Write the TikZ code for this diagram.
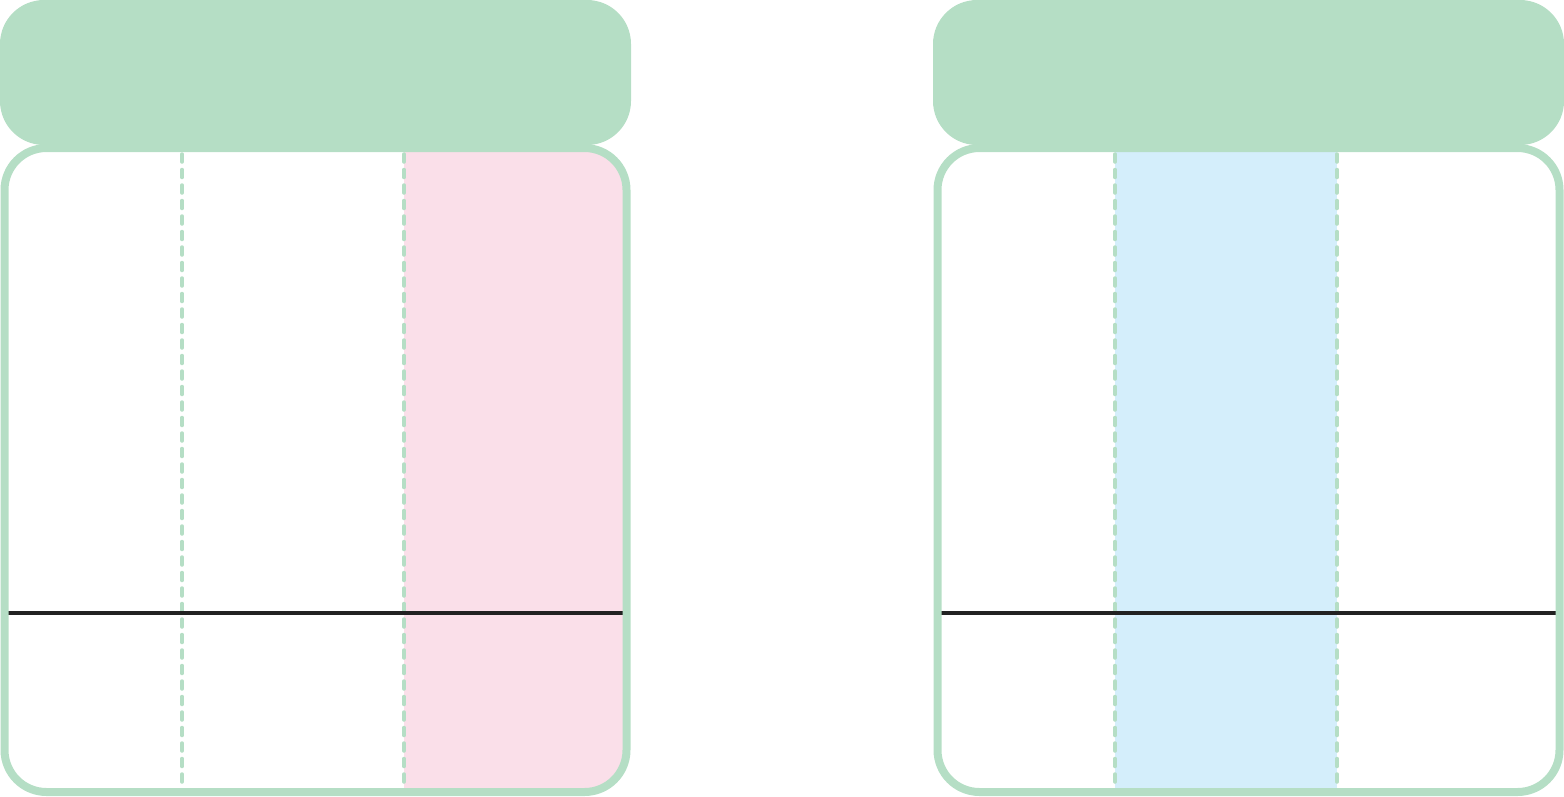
\documentclass[tikz,border=0pt]{standalone}
\usepackage{xcolor}
\usepackage{tikz}

\definecolor{mint}{HTML}{B5DEC5}
\definecolor{rosa}{HTML}{FADFE9}
\definecolor{cielo}{HTML}{D4EEFB}
\definecolor{tinta}{HTML}{222222}

\tikzset{
  cabecera/.style={fill=mint, rounded corners=44pt},
  cuerpo/.style={draw=mint, line width=8pt, rounded corners=42pt},
  division/.style={draw=mint, line width=3.5pt, line cap=round, dash pattern=on 8pt off 7.5pt},
  regla/.style={draw=tinta, line width=3.5pt}
}

\begin{document}
\begin{tikzpicture}[x=1pt,y=-1pt]

\useasboundingbox (0,0) rectangle (1564,796);

% Tabla izquierda
\begin{scope}
\begin{scope}
\clip[rounded corners=42pt] (4.5,148) rectangle (626.5,792); % recorte del cuerpo
\fill[rosa] (404,140) rectangle (640,800); % columna marcada
\end{scope}
\fill[cabecera] (0,0) rectangle (631,145);
\draw[division] (182,154) -- (182,788);
\draw[division] (404,154) -- (404,788);
\draw[regla] (8,613) -- (623,613);
\draw[cuerpo] (4.5,148) rectangle (626.5,792);
\end{scope}

% Tabla derecha
\begin{scope}[xshift=933]
\begin{scope}
\clip[rounded corners=42pt] (4.5,148) rectangle (626.5,792); % recorte del cuerpo
\fill[cielo] (182,140) rectangle (404,800); % columna marcada
\end{scope}
\fill[cabecera] (0,0) rectangle (631,145);
\draw[division] (182,154) -- (182,788);
\draw[division] (404,154) -- (404,788);
\draw[regla] (8,613) -- (623,613);
\draw[cuerpo] (4.5,148) rectangle (626.5,792);
\end{scope}

\end{tikzpicture}
\end{document}
